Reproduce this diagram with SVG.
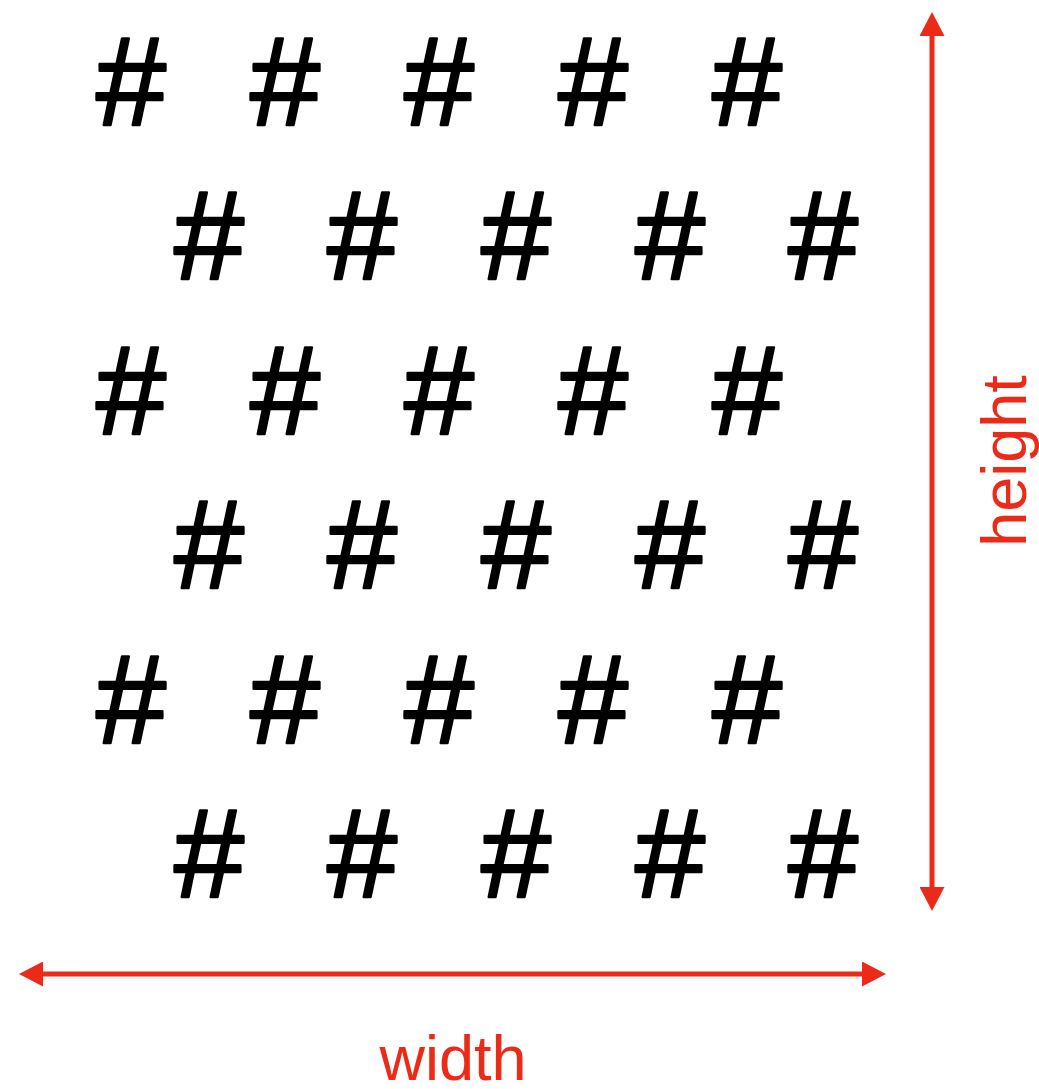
<svg xmlns="http://www.w3.org/2000/svg" width="1039" height="1089" viewBox="0 0 1039 1089">
<style>
.h{font-family:"Liberation Sans",Arial,sans-serif;font-size:126px;fill:#000;stroke:#000;stroke-width:2.5;stroke-linejoin:round;text-anchor:middle}
.lbl{font-family:"Liberation Sans",Arial,sans-serif;font-size:63px;fill:#EB2A17;text-anchor:middle}
.dim{stroke:#EB2A17;stroke-width:5;fill:none}
</style>
<defs>
<marker id="ah" viewBox="0 0 24 25" refX="2" refY="12.5" markerWidth="24" markerHeight="25" markerUnits="userSpaceOnUse" orient="auto-start-reverse">
<path d="M0,0 L24,12.5 L0,25 Z" fill="#EB2A17"/>
</marker>
</defs>
<rect width="1039" height="1089" fill="#fff"/>
<g id="grid">
<g id="row1">
<text class="h" x="131" y="125">#</text><text class="h" x="285" y="125">#</text><text class="h" x="439" y="125">#</text><text class="h" x="593" y="125">#</text><text class="h" x="747" y="125">#</text>
</g>
<g id="row2">
<text class="h" x="209" y="279">#</text><text class="h" x="362" y="279">#</text><text class="h" x="516" y="279">#</text><text class="h" x="670" y="279">#</text><text class="h" x="823" y="279">#</text>
</g>
<g id="row3">
<text class="h" x="131" y="434">#</text><text class="h" x="285" y="434">#</text><text class="h" x="439" y="434">#</text><text class="h" x="593" y="434">#</text><text class="h" x="747" y="434">#</text>
</g>
<g id="row4">
<text class="h" x="209" y="588">#</text><text class="h" x="362" y="588">#</text><text class="h" x="516" y="588">#</text><text class="h" x="670" y="588">#</text><text class="h" x="823" y="588">#</text>
</g>
<g id="row5">
<text class="h" x="131" y="743">#</text><text class="h" x="285" y="743">#</text><text class="h" x="439" y="743">#</text><text class="h" x="593" y="743">#</text><text class="h" x="747" y="743">#</text>
</g>
<g id="row6">
<text class="h" x="209" y="897">#</text><text class="h" x="362" y="897">#</text><text class="h" x="516" y="897">#</text><text class="h" x="670" y="897">#</text><text class="h" x="823" y="897">#</text>
</g>
</g>
<g id="connectors">
<line class="dim" x1="932" y1="34" x2="932" y2="889" marker-start="url(#ah)" marker-end="url(#ah)"/>
<line class="dim" x1="41" y1="974" x2="864" y2="974" marker-start="url(#ah)" marker-end="url(#ah)"/>
</g>
<g id="labels">
<text class="lbl" x="453" y="1080">width</text>
<text class="lbl" transform="translate(1026,461) rotate(-90)">height</text>
</g>
</svg>
